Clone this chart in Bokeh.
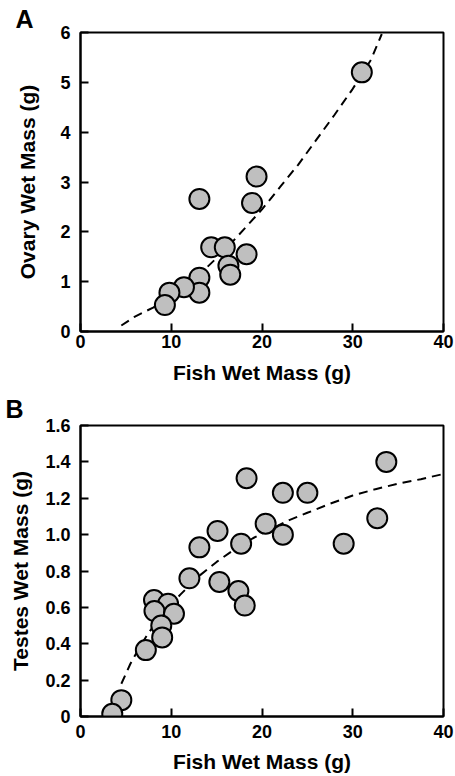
from bokeh.plotting import figure
from bokeh.models import Range1d, FixedTicker, PrintfTickFormatter
from bokeh.layouts import column
from bokeh.embed import file_html
from bokeh.resources import INLINE

# ---- Panel A data: ovary ----
ovary_fish_mass = [31.0, 19.4, 13.1, 18.9, 14.4, 15.9, 18.3, 16.3, 16.5, 13.1, 13.1, 11.4, 9.8, 9.3]
ovary_mass = [5.2, 3.11, 2.66, 2.58, 1.69, 1.69, 1.55, 1.32, 1.14, 1.08, 0.78, 0.89, 0.78, 0.53]
ovary_fit_x = [4.5, 6, 8, 10, 12, 14, 16, 18, 20, 22, 24, 26, 28, 30, 32, 33.2]
ovary_fit_y = [0.12, 0.30, 0.48, 0.70, 0.97, 1.30, 1.65, 2.05, 2.45, 2.90, 3.35, 3.85, 4.35, 4.87, 5.45, 5.97]

# ---- Panel B data: testes ----
testes_fish_mass = [33.7, 18.3, 22.3, 25.0, 20.4, 22.3, 32.7, 29.0, 15.1, 13.1, 17.7, 12.0,
                    15.3, 17.4, 18.1, 8.1, 9.65, 8.15, 10.3, 8.9, 9.0, 7.2, 4.5, 3.5]
testes_mass = [1.40, 1.31, 1.23, 1.23, 1.06, 1.00, 1.09, 0.95, 1.02, 0.93, 0.95, 0.76,
               0.74, 0.69, 0.61, 0.64, 0.62, 0.58, 0.565, 0.50, 0.435, 0.365, 0.09, 0.015]
testes_fit_x = [4.5, 5.5, 6.5, 7.5, 9, 11, 13, 15, 17, 19, 21, 23, 25, 27.5, 30, 32.5, 35, 37.5, 39.7]
testes_fit_y = [0.18, 0.29, 0.38, 0.46, 0.56, 0.67, 0.77, 0.85, 0.92, 0.98, 1.03, 1.08, 1.12,
                1.17, 1.215, 1.25, 1.28, 1.305, 1.33]

x_ticks = [0, 10, 20, 30, 40]
ovary_ticks = [0, 1, 2, 3, 4, 5, 6]
testes_ticks = [0, 0.2, 0.4, 0.6, 0.8, 1.0, 1.2, 1.4, 1.6]

FONT = "Liberation Sans"
FILL = "#bfbfbf"


def style(p, panel, x_label, y_label, y_ticks, x_std, x_lab_std, y_std, y_lab_std,
          t_offset, t_standoff):
    p.xgrid.visible = False
    p.ygrid.visible = False
    p.outline_line_color = "black"
    p.outline_line_width = 2
    p.outline_line_alpha = 1
    p.background_fill_color = "white"
    p.border_fill_color = "white"
    p.xaxis.ticker = FixedTicker(ticks=x_ticks)
    p.yaxis.ticker = FixedTicker(ticks=y_ticks)
    p.xaxis.axis_label = x_label
    p.yaxis.axis_label = y_label
    for ax in (p.xaxis, p.yaxis):
        ax.axis_line_color = "black"
        ax.axis_line_width = 2
        ax.major_tick_line_color = "black"
        ax.major_tick_line_width = 2
        ax.major_tick_in = 8
        ax.major_tick_out = 0
        ax.minor_tick_line_color = None
        ax.major_label_text_font = FONT
        ax.major_label_text_font_style = "bold"
        ax.major_label_text_font_size = "18px"
        ax.major_label_text_color = "black"
        ax.axis_label_text_font = FONT
        ax.axis_label_text_font_style = "bold"
        ax.axis_label_text_font_size = "21px"
        ax.axis_label_text_color = "black"
    p.xaxis.major_label_standoff = x_std
    p.xaxis.axis_label_standoff = x_lab_std
    p.yaxis.major_label_standoff = y_std
    p.yaxis.axis_label_standoff = y_lab_std
    p.title.text = panel
    p.title.align = "left"
    p.title.offset = t_offset
    p.title.standoff = t_standoff
    p.title.text_font = FONT
    p.title.text_font_style = "bold"
    p.title.text_font_size = "25px"
    p.title.text_color = "black"


# ---- Figure A ----
pA = figure(width=455, height=390, output_backend="svg", toolbar_location=None,
            x_range=Range1d(0, 40), y_range=Range1d(0, 6),
            min_border_left=80, min_border_right=12, min_border_top=32, min_border_bottom=59)
style(pA, "A", "Fish Wet Mass (g)", "Ovary Wet Mass (g)", ovary_ticks, 3, 10, 10, 18, -65, 0)
pA.line(ovary_fit_x, ovary_fit_y, line_color="black", line_width=2, line_dash="9 6")
pA.scatter(ovary_fish_mass, ovary_mass, size=20, fill_color=FILL, line_color="black", line_width=2)

# ---- Figure B ----
pB = figure(width=455, height=386, output_backend="svg", toolbar_location=None,
            x_range=Range1d(0, 40), y_range=Range1d(0, 1.6),
            min_border_left=80, min_border_right=12, min_border_top=33, min_border_bottom=60)
style(pB, "B", "Fish Wet Mass (g)", "Testes Wet Mass (g)", testes_ticks, 8, 9, 10, 10, -75, 5)
pB.yaxis.formatter = PrintfTickFormatter(format="%.1f")
pB.yaxis.major_label_overrides = {0: "0"}
pB.line(testes_fit_x, testes_fit_y, line_color="black", line_width=2, line_dash="9 6")
pB.scatter(testes_fish_mass, testes_mass, size=20, fill_color=FILL, line_color="black", line_width=2)

layout = column(pA, pB)
open("out.html", "w").write(file_html(layout, INLINE))
